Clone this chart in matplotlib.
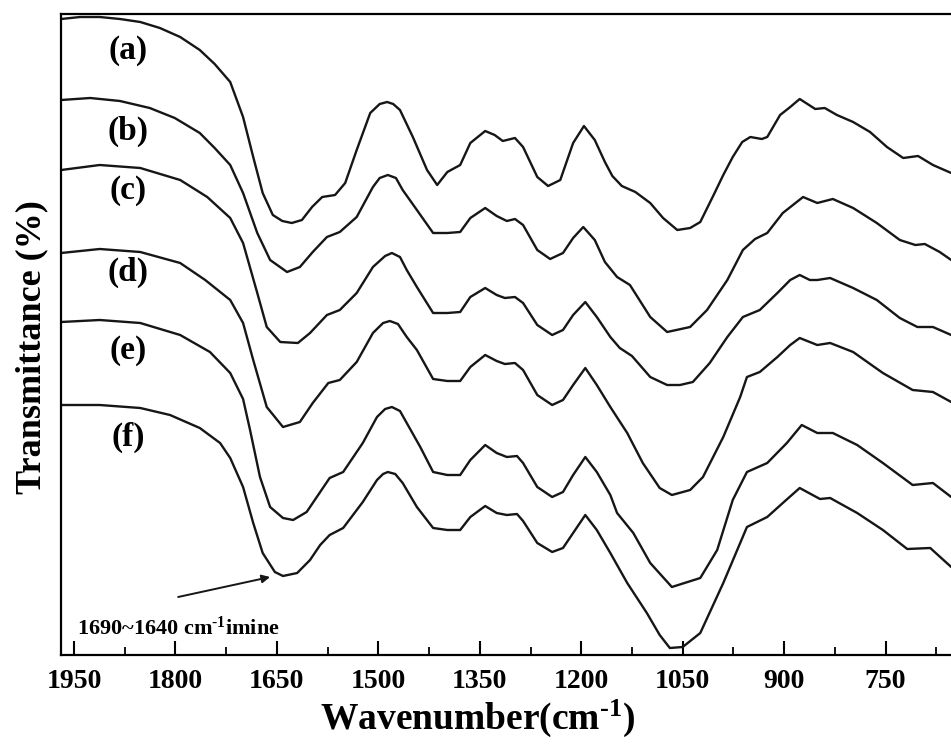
import matplotlib
matplotlib.use("Agg")
import matplotlib.pyplot as plt
from matplotlib.ticker import MultipleLocator

plt.rcParams['font.family'] = ['Liberation Serif', 'DejaVu Serif']
plt.rcParams['font.weight'] = 'bold'
plt.rcParams['mathtext.fontset'] = 'custom'
plt.rcParams['mathtext.rm'] = 'Liberation Serif:bold'
plt.rcParams['mathtext.default'] = 'rm'

# FTIR spectra, stacked with vertical offsets (wavenumber in cm-1, transmittance in arb. %)
wn_a = [1969, 1941, 1912, 1882, 1852, 1823, 1793, 1764, 1742, 1719, 1700, 1685, 1671, 1656, 1642, 1628,
        1613, 1598, 1583, 1564, 1549, 1532, 1512, 1498, 1487, 1478, 1468, 1449, 1428, 1413, 1398, 1379,
        1364, 1342, 1328, 1316, 1298, 1286, 1265, 1249, 1231, 1212, 1196, 1180, 1165, 1154, 1140, 1120,
        1098, 1079, 1058, 1039, 1024, 1005, 990, 976, 962, 950, 933, 925, 906, 891, 877, 854, 840, 822,
        798, 773, 748, 724, 702, 680, 653]
tr_a = [63.6, 63.8, 63.8, 63.6, 63.3, 62.7, 61.8, 60.5, 59.1, 57.3, 53.8, 49.8, 46.2, 44.0, 43.4, 43.2,
        43.5, 44.8, 45.8, 46.0, 47.2, 50.5, 54.2, 55.1, 55.3, 55.1, 54.5, 51.8, 48.5, 47.0, 48.3, 49.0,
        51.2, 52.4, 52.0, 51.4, 51.7, 50.8, 47.8, 46.9, 47.5, 51.2, 52.9, 51.5, 49.3, 47.9, 46.9, 46.3,
        45.2, 43.7, 42.5, 42.7, 43.3, 45.9, 48.0, 49.8, 51.3, 51.8, 51.6, 51.8, 54.0, 54.8, 55.6, 54.6,
        54.7, 54.0, 53.3, 52.3, 50.8, 49.7, 49.9, 49.0, 48.2]

wn_b = [1969, 1926, 1882, 1838, 1801, 1764, 1742, 1719, 1700, 1679, 1660, 1635, 1616, 1597, 1576, 1557,
        1532, 1508, 1498, 1486, 1474, 1464, 1443, 1419, 1398, 1379, 1364, 1342, 1325, 1310, 1298, 1286,
        1265, 1246, 1227, 1212, 1197, 1180, 1165, 1147, 1128, 1098, 1073, 1039, 1014, 984, 961, 943, 925,
        902, 872, 851, 828, 798, 763, 729, 706, 692, 670, 653]
tr_b = [55.5, 55.7, 55.4, 54.7, 53.7, 52.2, 50.7, 49.0, 46.2, 42.2, 39.5, 38.3, 38.8, 40.3, 41.8, 42.3,
        43.8, 46.8, 47.7, 48.0, 47.7, 46.5, 44.5, 42.2, 42.2, 42.3, 43.7, 44.7, 43.9, 43.4, 43.6, 43.0,
        40.5, 39.6, 40.2, 41.7, 42.8, 41.5, 39.3, 37.8, 37.0, 33.8, 32.3, 32.8, 34.5, 37.5, 40.5, 41.6, 42.2,
        44.2, 45.8, 45.2, 45.6, 44.7, 43.2, 41.5, 41.0, 41.1, 40.3, 39.5]

wn_c = [1969, 1912, 1852, 1793, 1753, 1719, 1700, 1679, 1665, 1645, 1619, 1601, 1576, 1557, 1532, 1508,
        1490, 1480, 1468, 1458, 1443, 1419, 1398, 1379, 1364, 1342, 1325, 1313, 1298, 1286, 1265, 1243,
        1227, 1212, 1194, 1177, 1157, 1143, 1125, 1098, 1073, 1054, 1035, 1010, 984, 961, 936, 910, 891,
        877, 862, 851, 832, 798, 763, 729, 703, 680, 653]
tr_c = [48.5, 49.0, 48.7, 47.5, 45.8, 43.7, 41.2, 36.2, 32.8, 31.3, 31.2, 32.2, 34.0, 34.5, 36.2, 38.8,
        39.9, 40.2, 39.8, 38.5, 36.8, 34.2, 34.2, 34.3, 35.8, 36.7, 36.0, 35.7, 35.8, 35.2, 33.0, 32.0,
        32.5, 34.0, 35.3, 33.8, 31.8, 30.7, 29.9, 27.8, 27.0, 27.0, 27.3, 29.2, 31.8, 33.8, 34.5, 36.2, 37.5,
        38.0, 37.5, 37.5, 37.7, 36.7, 35.5, 33.7, 32.8, 32.8, 32.0]

wn_d = [1969, 1912, 1852, 1793, 1756, 1719, 1700, 1685, 1665, 1641, 1616, 1597, 1574, 1557, 1532, 1508,
        1493, 1483, 1471, 1458, 1443, 1419, 1398, 1379, 1364, 1342, 1325, 1313, 1298, 1286, 1265, 1243,
        1227, 1212, 1194, 1177, 1157, 1132, 1109, 1084, 1066, 1039, 1020, 990, 965, 955, 936, 910, 891,
        877, 851, 832, 798, 754, 710, 680, 653]
tr_d = [40.2, 40.6, 40.3, 39.2, 37.5, 35.5, 33.2, 29.5, 24.8, 22.8, 23.3, 25.2, 27.2, 27.5, 29.3, 32.2,
        33.2, 33.4, 33.1, 31.8, 30.5, 27.6, 27.4, 27.4, 28.8, 30.0, 29.4, 29.1, 29.2, 28.5, 26.0, 25.0,
        25.5, 27.0, 28.7, 27.0, 24.8, 22.2, 19.2, 16.7, 16.0, 16.5, 17.8, 21.8, 25.8, 27.8, 28.3, 29.8, 31.0,
        31.7, 31.0, 31.2, 30.3, 28.2, 26.5, 26.3, 25.3]

wn_e = [1969, 1912, 1852, 1793, 1749, 1719, 1700, 1690, 1675, 1660, 1641, 1626, 1606, 1586, 1572, 1552,
        1523, 1502, 1490, 1480, 1468, 1458, 1438, 1419, 1398, 1379, 1364, 1342, 1325, 1310, 1295, 1286,
        1265, 1243, 1227, 1212, 1194, 1177, 1157, 1147, 1123, 1098, 1066, 1024, 999, 976, 955, 925, 896,
        874, 851, 828, 792, 754, 710, 680, 653]
tr_e = [33.3, 33.5, 33.2, 32.0, 30.3, 28.2, 25.6, 22.6, 17.8, 14.8, 13.7, 13.5, 14.3, 16.3, 17.7, 18.3,
        21.2, 23.8, 24.6, 24.8, 24.4, 23.2, 20.8, 18.3, 18.0, 18.0, 19.5, 21.0, 20.2, 19.8, 19.9, 19.2,
        16.8, 15.8, 16.3, 18.0, 19.8, 18.3, 16.0, 14.2, 12.2, 9.2, 6.8, 7.7, 10.5, 15.5, 18.3, 19.2, 21.2,
        23.0, 22.2, 22.2, 21.0, 19.2, 17.0, 17.2, 15.8]

wn_f = [1969, 1912, 1852, 1808, 1764, 1734, 1719, 1700, 1685, 1671, 1653, 1641, 1620, 1601, 1586, 1572,
        1552, 1523, 1502, 1493, 1486, 1475, 1464, 1443, 1419, 1398, 1379, 1364, 1342, 1325, 1310, 1295,
        1286, 1265, 1243, 1227, 1212, 1194, 1177, 1157, 1132, 1103, 1084, 1069, 1050, 1024, 990, 955, 925,
        902, 877, 847, 832, 792, 754, 718, 684, 653]
tr_f = [25.0, 25.0, 24.7, 24.0, 22.7, 21.2, 19.7, 16.8, 13.2, 10.2, 8.3, 7.9, 8.2, 9.5, 11.0, 12.0,
        12.7, 15.3, 17.5, 18.1, 18.3, 18.1, 17.2, 14.8, 12.7, 12.5, 12.5, 13.8, 14.9, 14.2, 14.0, 14.1,
        13.4, 11.2, 10.3, 10.7, 12.2, 14.0, 12.5, 10.2, 7.2, 4.2, 2.0, 0.7, 0.8, 2.2, 7.2, 12.8, 13.8,
        15.2, 16.7, 15.6, 15.7, 14.2, 12.5, 10.6, 10.7, 8.8]

labels = ['(a)', '(b)', '(c)', '(d)', '(e)', '(f)']
label_wn = 1870
label_tr = [60.5, 52.4, 46.5, 38.3, 30.5, 21.8]

spectra = [(wn_a, tr_a), (wn_b, tr_b), (wn_c, tr_c), (wn_d, tr_d), (wn_e, tr_e), (wn_f, tr_f)]

fig = plt.figure(figsize=(9.51, 7.53), dpi=100)
ax = fig.add_axes([61 / 951, 98 / 753, 890 / 951, 641.5 / 753])

for wn, tr in spectra:
    ax.plot(wn, tr, color='#161616', lw=1.7, solid_joinstyle='round', solid_capstyle='round')

for lab, y in zip(labels, label_tr):
    ax.text(label_wn, y, lab, fontsize=24, fontweight='bold', ha='center', va='center')

ax.annotate('', xy=(1660, 7.8), xytext=(1796, 5.8),
            arrowprops=dict(arrowstyle='-|>', color='#161616', lw=1.4, mutation_scale=12,
                            shrinkA=0, shrinkB=0))
ax.text(1946, 2.7, r'1690~1640 cm$^{\text{-1}}$imine', fontsize=16, fontweight='bold',
        ha='left', va='center')

ax.set_xlim(1969.2, 653.3)
ax.set_ylim(0, 64.15)
ax.xaxis.set_major_locator(MultipleLocator(150))
ax.xaxis.set_minor_locator(MultipleLocator(75))
ax.tick_params(axis='x', which='major', direction='in', length=10, width=1.5, pad=10,
               labelsize=20, top=False)
ax.tick_params(axis='x', which='minor', direction='in', length=5.5, width=1.3, top=False)
ax.tick_params(axis='y', left=False, labelleft=False)
for lbl in ax.get_xticklabels():
    lbl.set_fontweight('bold')

for side in ['left', 'bottom', 'top']:
    ax.spines[side].set_linewidth(1.6)
ax.spines['right'].set_visible(False)

fig.text(478 / 951, (753 - 729) / 753, r'Wavenumber(cm$^{\text{-1}}$)', fontsize=27,
         fontweight='bold', ha='center', va='baseline')
fig.text(32 / 951, (753 - 347) / 753, 'Transmittance (%)', fontsize=26, fontweight='bold',
         rotation=90, ha='center', va='center')

fig.savefig('out.png', dpi=100)
